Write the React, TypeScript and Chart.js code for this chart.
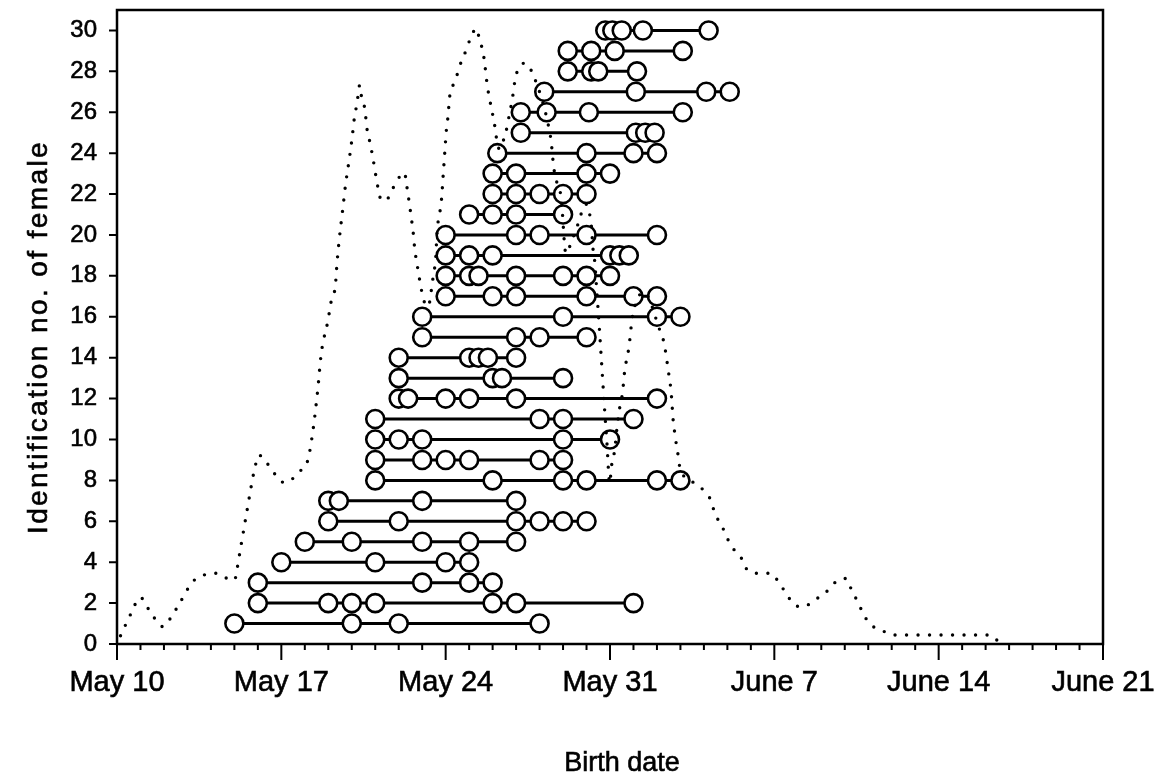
import React, { useEffect, useRef } from "react";
import { Chart, registerables } from "chart.js";

Chart.register(...registerables);

// x axis: days after May 10; y axis: identification no. of female
const dateLabels = ["May 10", "May 17", "May 24", "May 31", "June 7", "June 14", "June 21"];
const femaleIds = [
  1, 2, 3, 4, 5, 6, 7, 8, 9, 10, 11, 12, 13, 14, 15,
  16, 17, 18, 19, 20, 21, 22, 23, 24, 25, 26, 27, 28, 29, 30,
];
// birth days (days after May 10) for each female, in the order of femaleIds
const birthDays: number[][] = [
  [5, 10, 12, 18],
  [6, 9, 10, 11, 16, 17, 22],
  [6, 13, 15, 16],
  [7, 11, 14, 15],
  [8, 10, 13, 15, 17],
  [9, 12, 17, 18, 19, 20],
  [9, 9.45, 13, 17],
  [11, 16, 19, 20, 23, 24],
  [11, 13, 14, 15, 18, 19],
  [11, 12, 13, 19, 21],
  [11, 18, 19, 22],
  [12, 12.4, 14, 15, 17, 23],
  [12, 16, 16.4, 19],
  [12, 15, 15.4, 15.8, 17],
  [13, 17, 18, 20],
  [13, 19, 23, 24],
  [14, 16, 17, 20, 22, 23],
  [14, 15, 15.4, 17, 19, 20, 21],
  [14, 15, 16, 21, 21.4, 21.8],
  [14, 17, 18, 20, 23],
  [15, 16, 17, 19],
  [16, 17, 18, 19, 20],
  [16, 17, 20, 21],
  [16.2, 20, 22, 23],
  [17.2, 22.1, 22.5, 22.9],
  [17.2, 18.3, 20.1, 24.1],
  [18.2, 22.1, 25.1, 26.1],
  [19.2, 20.2, 20.5, 22.15],
  [19.2, 20.2, 21.2, 24.1],
  [20.8, 21.1, 21.5, 22.4, 25.2],
];

// dotted curve (births per day, drawn on the same y scale)
const curveDays = [
  0.15, 0.6, 0.99, 1.4, 1.96, 2.3, 2.67, 3.23, 3.7, 4.23, 4.7, 5.01, 5.12, 5.25, 5.4, 5.55, 5.7, 5.85, 6.05,
  6.3, 6.57, 6.85, 7.14, 7.5, 7.78, 8.13, 8.35, 8.55, 8.7, 8.99, 9.13, 9.3, 9.37, 9.46, 9.63, 9.74, 9.88,
  10.01, 10.12, 10.22, 10.34, 10.41, 10.55, 10.66, 10.76, 10.88, 11.12, 11.26, 11.45, 11.76, 12.04, 12.25,
  12.33, 12.47, 12.54, 12.61, 12.68, 12.82, 12.97, 13.11, 13.22, 13.32, 13.39, 13.46, 13.58, 13.63, 13.82,
  13.89, 13.96, 14.03, 14.1, 14.17, 14.34, 14.52, 14.67, 14.88, 15.05, 15.31, 15.45, 15.59, 15.66, 15.78,
  15.88, 16.13, 16.19, 16.33, 16.5, 16.64, 16.72, 16.82, 16.96, 17.1, 17.37, 17.7, 18.43, 18.5, 18.6, 18.69,
  18.93, 19.07, 19.12, 19.36, 19.54, 19.71, 19.85, 20.0, 20.18, 20.21, 20.28, 20.35, 20.42, 20.49, 20.56,
  20.78, 20.86, 20.99, 21.06, 21.2, 21.3, 21.42, 21.53, 21.63, 21.72, 21.81, 21.91, 21.98, 22.45, 23.12,
  23.29, 23.38, 23.45, 23.52, 23.58, 23.62, 23.69, 23.76, 23.83, 23.9, 23.97, 24.61, 25.04, 25.32, 25.46,
  25.75, 25.96, 26.24, 26.6, 26.88, 27.38, 27.84, 28.2, 28.52, 28.87, 29.22, 29.72, 30.22, 30.72, 31.07,
  31.29, 31.57, 31.78, 32.07, 32.56, 33.06, 37.2, 37.6,
];
const curveValues = [
  0.4, 1.5, 2.28, 1.6, 0.85, 1.3, 2.0, 3.05, 3.37, 3.46, 3.2, 3.13, 3.7, 4.6, 5.6, 6.6, 7.6, 8.5, 9.24,
  8.95, 8.59, 8.1, 7.89, 8.1, 8.43, 9.0, 10.46, 12.42, 14.2, 15.84, 16.8, 17.5, 18.6, 19.7, 21.4, 22.5, 23.6,
  24.7, 25.8, 26.4, 27.33, 26.8, 26.2, 25.1, 24.6, 23.9, 22.3, 21.7, 21.7, 22.3, 22.85, 23.05,
  22.5, 21.4, 20.8, 20.2, 19.35, 18.3, 17.3, 16.66, 16.5, 16.74, 17.3, 17.9, 18.94, 20.08, 21.7,
  22.85, 24.0, 25.13, 25.8, 26.76, 27.4, 27.94, 28.5, 29.05, 29.6, 30.1, 29.5, 28.96, 28.4, 27.25,
  26.6, 25.05, 24.48, 24.2, 24.8, 25.4, 25.95, 26.5, 27.6, 28.15, 28.4, 27.9, 25.05, 24.5, 23.34, 22.77,
  21.7, 19.46, 19.1, 19.67, 20.24, 20.77, 21.35, 21.5, 20.7, 20.4, 19.27, 18.7, 17.55, 16.4, 15.2,
  11.3, 10.0, 7.87, 8.67, 9.49, 10.6, 11.6, 12.26, 13.4, 13.97, 14.54, 15.6, 16.17, 17.2, 15.35,
  14.78, 14.2, 13.64, 13.07, 12.58, 12.09, 10.95, 10.3, 9.73, 9.24, 8.67, 7.86, 7.45, 6.96, 6.39,
  5.82, 5.25, 4.68, 4.19, 3.58, 3.46, 3.46, 3.0, 2.44, 1.9, 1.82, 2.15, 2.56, 3.13, 3.2,
  2.64, 2.02, 1.5, 0.98, 0.68, 0.44, 0.44, 0.05,
];

const FONT = '"Liberation Sans", Arial, Helvetica, sans-serif';

const framePlugin = {
  id: "frame",
  afterDraw(chart: any) {
    const { ctx, chartArea: a, scales } = chart;
    const x = scales.x;
    const y = scales.y;
    ctx.save();
    ctx.strokeStyle = "#000";
    ctx.lineWidth = 2.5;
    ctx.strokeRect(a.left, a.top, a.right - a.left, a.bottom - a.top);
    ctx.lineWidth = 2;
    ctx.beginPath();
    for (let d = 0; d <= 42; d++) {
      const px = x.getPixelForValue(d);
      const len = d % 7 === 0 ? 16 : 6;
      ctx.moveTo(px, a.bottom);
      ctx.lineTo(px, a.bottom + len);
    }
    for (let v = 0; v <= 30; v += 2) {
      const py = y.getPixelForValue(v);
      ctx.moveTo(a.left - 8, py);
      ctx.lineTo(a.left, py);
    }
    ctx.stroke();

    ctx.fillStyle = "#000";
    ctx.lineWidth = 0.6;
    // x title
    ctx.font = `27px ${FONT}`;
    ctx.textAlign = "center";
    ctx.textBaseline = "alphabetic";
    const bx = (a.left + a.right) / 2 + 12;
    ctx.fillText("Birth date", bx, 763);
    ctx.strokeText("Birth date", bx, 763);
    // y title
    ctx.save();
    ctx.translate(39, (a.top + a.bottom) / 2 + 10);
    ctx.rotate(-Math.PI / 2);
    ctx.font = `28px ${FONT}`;
    try {
      (ctx as any).letterSpacing = "2.4px";
    } catch (e) {}
    ctx.fillText("Identification no. of female", 0, 0);
    ctx.strokeText("Identification no. of female", 0, 0);
    ctx.restore();
    ctx.restore();
  },
};

const zeroPadding = (s: any) => {
  s.paddingTop = 0;
  s.paddingBottom = 0;
  s.paddingLeft = 0;
  s.paddingRight = 0;
};

export default function App() {
  const ref = useRef<HTMLCanvasElement>(null);

  useEffect(() => {
    if (!ref.current) return;
    const curve = {
      data: curveDays.map((d, i) => ({ x: d, y: curveValues[i] })),
      showLine: true,
      pointRadius: 0,
      borderColor: "#000",
      borderWidth: 3.4,
      borderDash: [0, 11.5],
      borderCapStyle: "round",
      cubicInterpolationMode: "monotone",
    };
    const rows = femaleIds.map((id, i) => ({
      data: birthDays[i].map((d) => ({ x: d, y: id })),
      showLine: true,
      borderColor: "#000",
      borderWidth: 3,
      pointRadius: 9,
      pointBorderWidth: 2.6,
      pointBackgroundColor: "#fff",
      pointBorderColor: "#000",
    }));
    const chart = new Chart(ref.current, {
      type: "scatter",
      data: { datasets: [curve as any, ...rows] },
      options: {
        animation: false,
        responsive: false,
        devicePixelRatio: 1,
        layout: { autoPadding: false, padding: { top: 2, right: 58, left: 0, bottom: 0 } },
        plugins: { legend: { display: false }, tooltip: { enabled: false } },
        scales: {
          x: {
            type: "linear",
            min: 0,
            max: 42,
            grid: { display: false, drawTicks: false },
            border: { display: false },
            ticks: {
              stepSize: 7,
              autoSkip: false,
              maxRotation: 0,
              padding: 22,
              color: "#000",
              textStrokeColor: "#000",
              textStrokeWidth: 0.6,
              font: { family: FONT, size: 29 },
              callback: (v: any) => (v % 7 === 0 ? dateLabels[v / 7] : ""),
            },
            afterFit: (s: any) => {
              s.height = 129;
              zeroPadding(s);
            },
          },
          y: {
            type: "linear",
            min: 0,
            max: 31,
            grid: { display: false, drawTicks: false },
            border: { display: false },
            ticks: {
              stepSize: 2,
              includeBounds: false,
              padding: 20,
              color: "#000",
              textStrokeColor: "#000",
              textStrokeWidth: 0.6,
              font: { family: FONT, size: 24 },
            },
            afterFit: (s: any) => {
              s.width = 109;
              zeroPadding(s);
            },
          },
        },
      },
      plugins: [framePlugin],
    });
    return () => chart.destroy();
  }, []);

  return <canvas ref={ref} width={1153} height={765} style={{ display: "block" }} />;
}
